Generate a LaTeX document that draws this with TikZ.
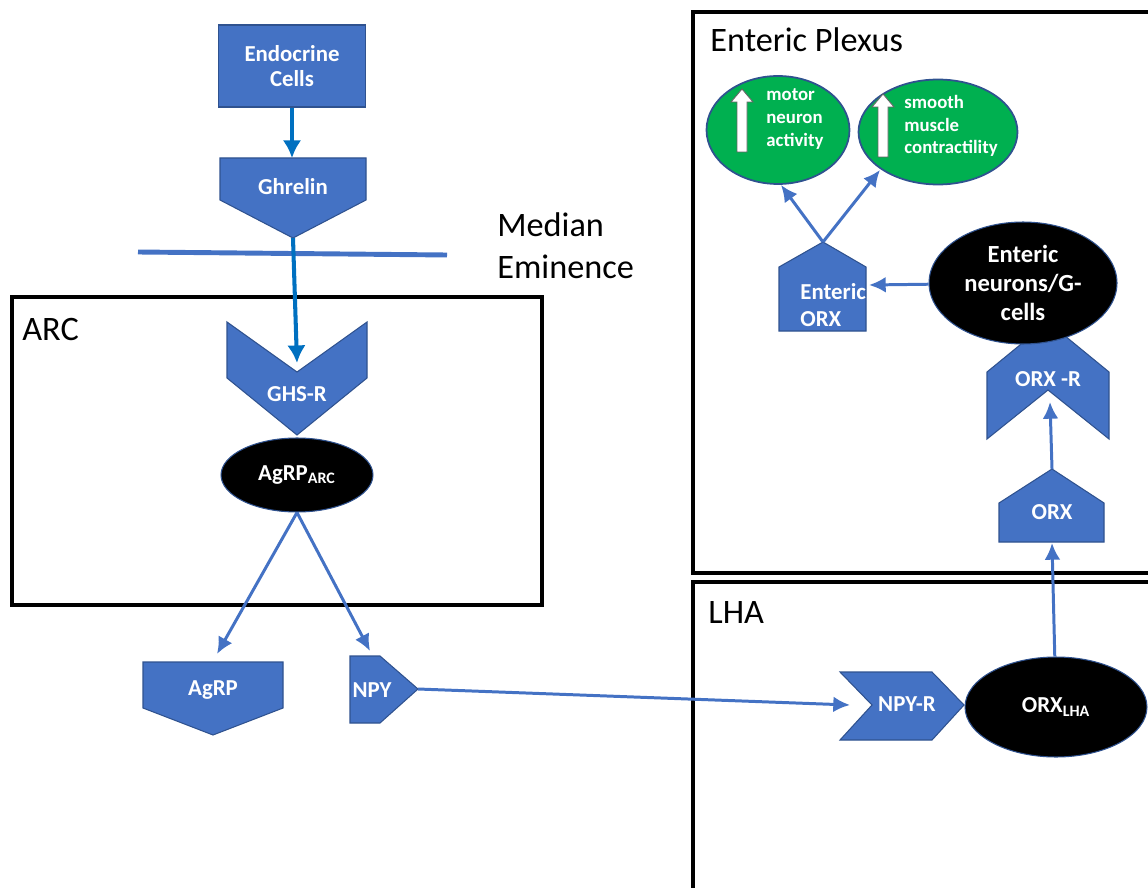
\documentclass[tikz,border=0pt]{standalone}
\usepackage{fontspec}
\setmainfont{Carlito}
\usepackage{tikz}
\usetikzlibrary{arrows.meta,shapes.geometric}

\definecolor{sigblue}{HTML}{4472C4}
\definecolor{sigline}{HTML}{2F528F}
\definecolor{feedblue}{HTML}{0070C0}
\definecolor{effgreen}{HTML}{00B050}

\begin{document}
\begin{tikzpicture}[x=0.02cm,y=-0.02cm]

	\tikzset{sig/.style = {draw=sigline,fill=sigblue,line width=0.6pt}}
	\tikzset{txt/.style = {text=white,font=\bfseries\fontsize{13}{14.5}\selectfont,align=center,inner sep=0pt}}
	\tikzset{cell/.style = {shape=ellipse,draw=sigline,fill=black,line width=0.6pt,text=white,font=\bfseries\fontsize{13}{14.5}\selectfont,align=center,inner sep=0pt}}
	\tikzset{effect/.style = {shape=ellipse,draw=sigline,fill=effgreen,line width=1pt}}
	\tikzset{efftxt/.style = {text=white,font=\bfseries\fontsize{10.7}{13}\selectfont,align=left,anchor=west,inner sep=0pt}}
	\tikzset{edge/.style = {-{Latex[length=9.5pt,width=9pt]},draw=sigblue,line width=1.7pt}}
	\tikzset{feed/.style = {-{Latex[length=10pt,width=10.5pt]},draw=feedblue,line width=2.3pt}}
	\tikzset{region/.style = {draw=black,line width=2.5pt}}
	\tikzset{lbl/.style = {anchor=base west,inner sep=0pt,font=\fontsize{19.5}{24}\selectfont}}
	\tikzset{up/.style = {draw=black!60,fill=white,line width=0.5pt}}

	\useasboundingbox (0,0) rectangle (1148,888);
	\clip (0,0) rectangle (1148,888);

	% regions
	\draw[region] (12,297) rectangle (542,605);
	\draw[region] (693,12) rectangle (1170,573);
	\draw[region] (693,582) rectangle (1170,910);
	\node[lbl] (arc) at (22,340) {ARC};
	\node[lbl] (lha) at (708,623) {LHA};
	\node[lbl] (plexus) at (710,52) {Enteric Plexus};
	\node[lbl,anchor=west,align=left] (eminence) at (497,246) {Median\\Eminence};

	% ghrelin side
	\node[sig,txt,minimum width=2.94cm,minimum height=1.64cm] (endo) at (292,66) {Endocrine\\Cells};
	\draw[sig] (220,158) -- (366,158) -- (366,200) -- (293,238) -- (220,200) -- cycle;
	\node[txt] (ghrelin) at (293,187) {Ghrelin};
	\coordinate (ghrelin-top) at (292,158);
	\coordinate (ghrelin-tip) at (293,238);
	\draw[draw=sigblue,line width=2.8pt] (138,252) -- (447,255);

	\draw[sig] (227,322) -- (297,372) -- (367,322) -- (367,378) -- (297,435) -- (227,378) -- cycle;
	\node[txt] (ghsr) at (297,394) {GHS-R};
	\coordinate (ghsr-in) at (297,363);

	\node[cell,minimum width=3.04cm,minimum height=1.48cm] (agrparc) at (297,475) {AgRP\textsubscript{ARC}};

	\draw[sig] (143,662) -- (283,662) -- (283,708) -- (213,735) -- (143,708) -- cycle;
	\node[txt] (agrp) at (213,690) {AgRP};
	\coordinate (agrp-in) at (217,654);

	\draw[sig] (350,656) -- (380,656) -- (418,689) -- (380,723) -- (350,723) -- cycle;
	\node[txt] (npy) at (372,690) {NPY};
	\coordinate (npy-in) at (370,651);
	\coordinate (npy-tip) at (418,689);

	% LHA
	\draw[sig] (840,672) -- (932,672) -- (964,705) -- (932,740) -- (840,740) -- (872,705) -- cycle;
	\node[txt] (npyr) at (907,704) {NPY-R};
	\coordinate (npyr-in) at (850,705);
	\node[cell,minimum width=3.64cm,minimum height=2cm] (orxlha) at (1056,707) {ORX\textsubscript{LHA}};

	% enteric plexus
	\draw[sig] (999,542) -- (1104,542) -- (1104,503) -- (1052,469) -- (999,503) -- cycle;
	\node[txt] (orx) at (1052,512) {ORX};
	\coordinate (orx-in) at (1052,543);
	\coordinate (orx-tip) at (1052,469);

	\draw[sig] (987,439) -- (1048,390) -- (1109,439) -- (1109,372) -- (1048,322) -- (987,372) -- cycle;
	\node[txt] (orxr) at (1048,379) {ORX -R};
	\coordinate (orxr-in) at (1050,402);

	\node[cell,font=\bfseries\fontsize{14}{16.5}\selectfont,minimum width=3.76cm,minimum height=2.44cm] (neurons) at (1023,283) {Enteric\\neurons/G-\\cells};

	\draw[sig] (779,331) -- (866,331) -- (866,267) -- (823,242) -- (779,267) -- cycle;
	\node[txt,align=left,anchor=west,font=\bfseries\fontsize{13}{15}\selectfont] (eorx) at (800,305) {Enteric\\ORX};
	\coordinate (eorx-in) at (869,285);
	\coordinate (eorx-tip) at (823,242);

	\node[effect,minimum width=2.86cm,minimum height=2.16cm] (motor) at (778,130) {};
	\node[effect,minimum width=3.18cm,minimum height=2.1cm] (smooth) at (938,132) {};
	\draw[up] (737,152) -- (737,102) -- (731,102) -- (742,89) -- (753,102) -- (747,102) -- (747,152) -- cycle;
	\draw[up] (878,157) -- (878,107) -- (872,107) -- (883,94) -- (894,107) -- (888,107) -- (888,157) -- cycle;
	\node[efftxt] (motortxt) at (766,119) {motor\\neuron\\activity};
	\node[efftxt] (smoothtxt) at (904,126) {smooth\\muscle\\contractility};
	\coordinate (motor-in) at (781,185);
	\coordinate (smooth-in) at (880,170);

	% connectors
	\draw[feed] (endo) -- (ghrelin-top);
	\draw[feed] (ghrelin-tip) -- (ghsr-in);
	\draw[edge] (agrparc.south) -- (agrp-in);
	\draw[edge] (agrparc.south) -- (npy-in);
	\draw[edge] (npy-tip) -- (npyr-in);
	\draw[edge] (orxlha) -- (orx-in);
	\draw[edge] (orx-tip) -- (orxr-in);
	\draw[edge] (neurons) -- (eorx-in);
	\draw[edge] (eorx-tip) -- (motor-in);
	\draw[edge] (eorx-tip) -- (smooth-in);
\end{tikzpicture}
\end{document}
